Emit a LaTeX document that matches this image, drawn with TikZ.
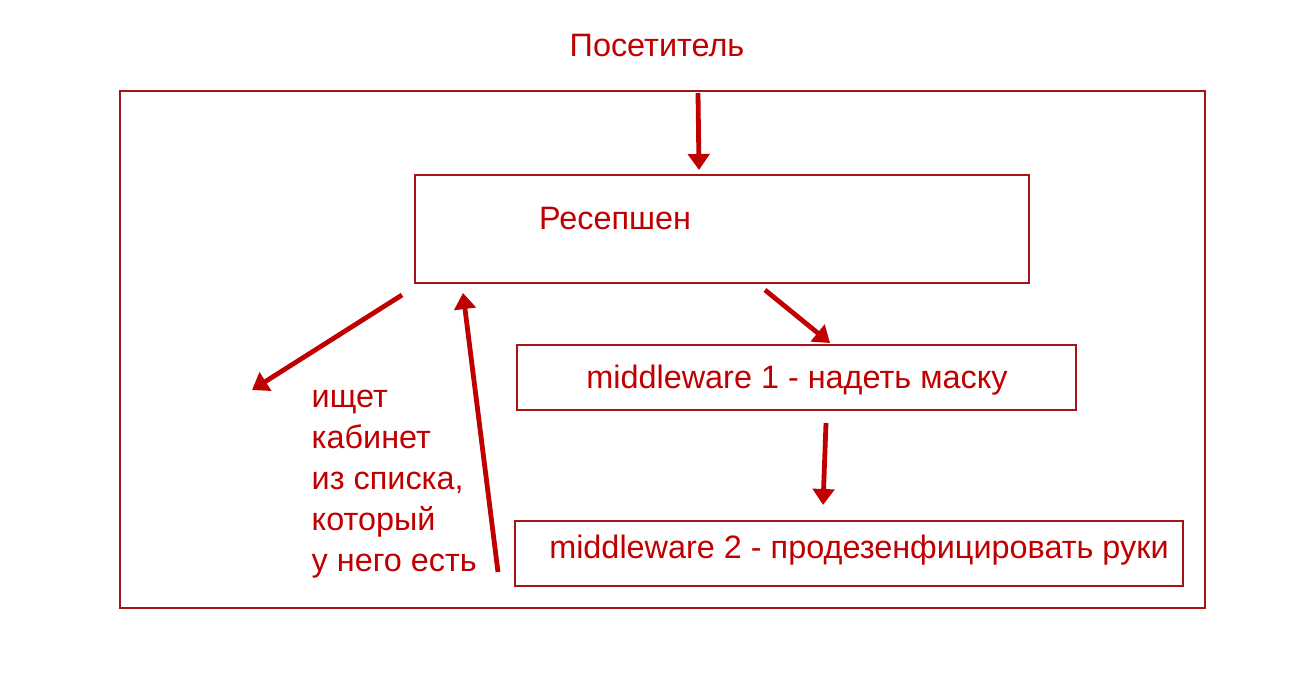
\documentclass[tikz,border=0pt]{standalone}
\usepackage{fontspec}
\setmainfont{Liberation Sans}
\usetikzlibrary{arrows.meta}
\definecolor{darkred}{RGB}{192,0,0}
\definecolor{framered}{RGB}{165,20,20}

\begin{document}
\begin{tikzpicture}[x=0.75pt,y=-0.75pt,
    every node/.style={text=darkred,font=\fontsize{24.3}{30.75}\selectfont},
    box/.style={draw=framered,line width=1.3pt},
    bigarrow/.style={draw=darkred,line width=3.6pt,-{Triangle[length=12pt,width=16pt]}}]
      \useasboundingbox (0,0) rectangle (1302,686);
      \draw[box] (120,91) rectangle (1205,608);
      \node (visitor) at (657,46) {Посетитель};
      \draw[box] (415,175) rectangle (1029,283);
      \node (reception) at (615,219) {Ресепшен};
      \draw[box] (517,345) rectangle (1076,410);
      \node (mw1) at (797,380) {middleware 1 - надеть маску};
      \draw[box] (515,521) rectangle (1183,586);
      \node (mw2) at (859,550) {middleware 2 - продезенфицировать руки};
      \node[anchor=north west,align=left] (search) at (307,385)
        {ищет\\кабинет\\из списка,\\который\\у него есть};
      % arrows
      \coordinate (a1) at (698,93);  \coordinate (b1) at (699,170);
      \coordinate (a2) at (765,290); \coordinate (b2) at (830,343);
      \coordinate (a3) at (826,423); \coordinate (b3) at (823,505);
      \coordinate (a4) at (402,295); \coordinate (b4) at (252,390);
      \coordinate (a5) at (498,572); \coordinate (b5) at (463,293);
      \draw[bigarrow] (a1) -- (b1);
      \draw[bigarrow] (a2) -- (b2);
      \draw[bigarrow] (a3) -- (b3);
      \draw[bigarrow] (a4) -- (b4);
      \draw[bigarrow] (a5) -- (b5);
\end{tikzpicture}
\end{document}
